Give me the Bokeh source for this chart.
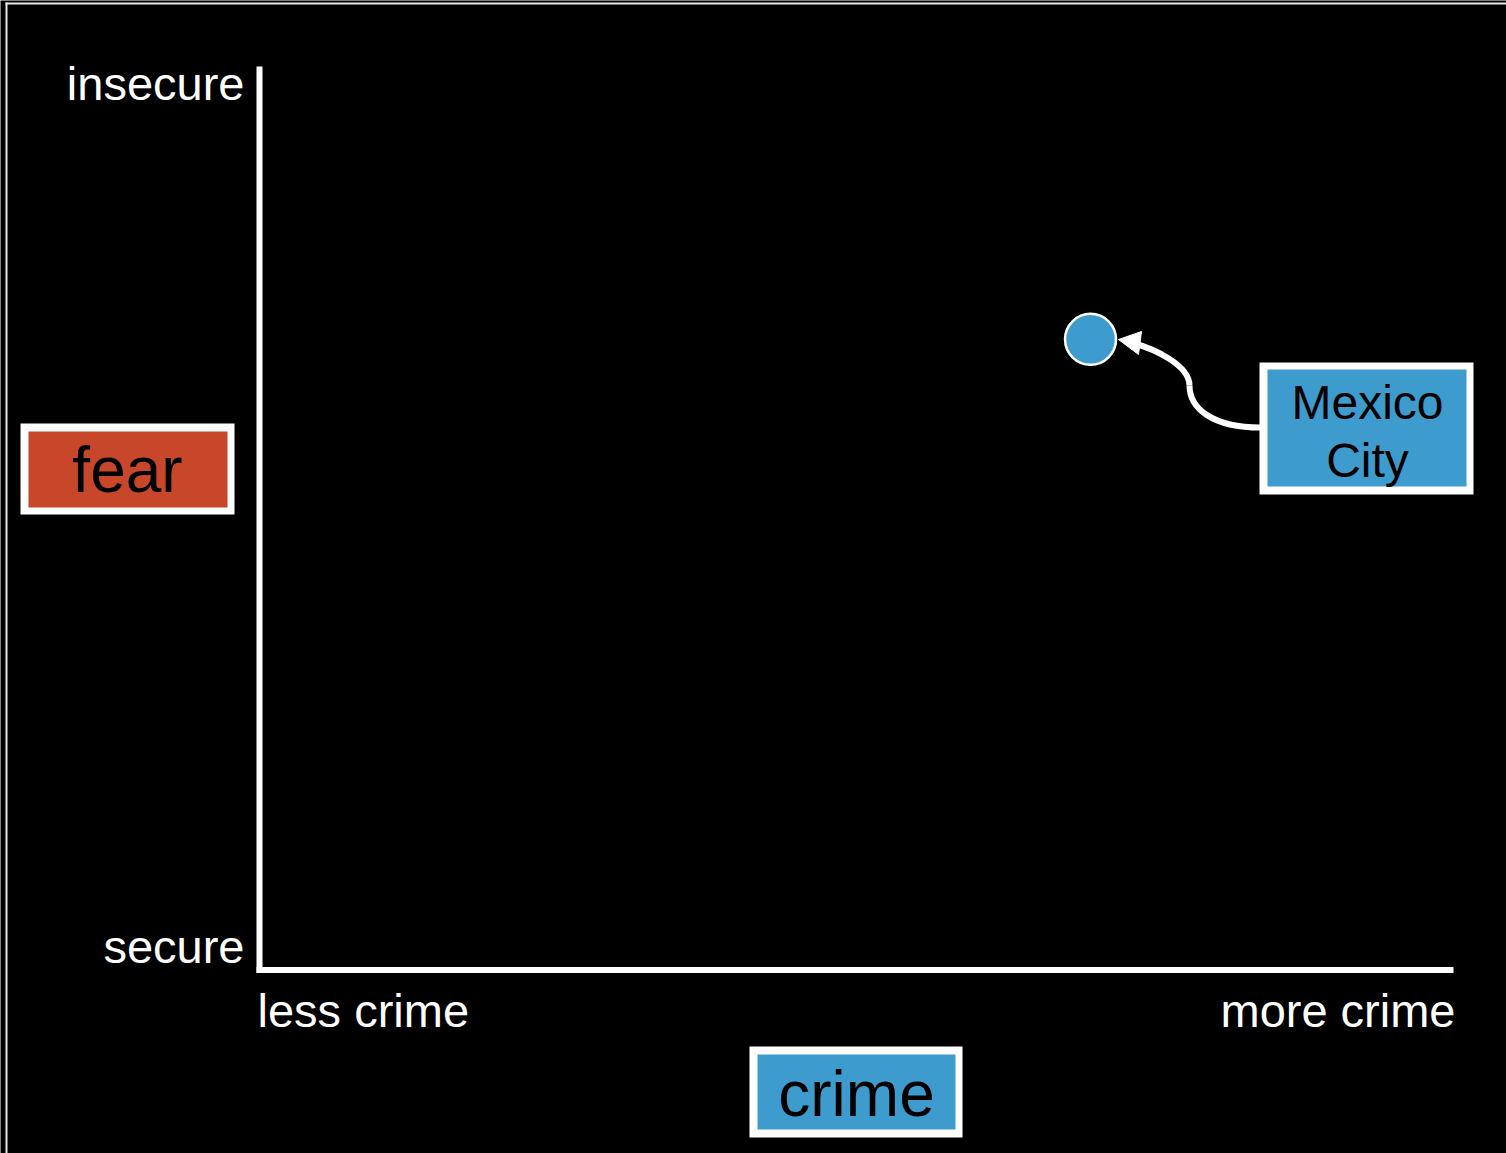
from bokeh.plotting import figure
from bokeh.models import Range1d
from bokeh.core.properties import value
from bokeh.embed import file_html
from bokeh.resources import INLINE

# ---- data ----
crime_labels = ["less crime", "more crime"]
fear_labels = ["secure", "insecure"]
axis_names = ["crime", "fear"]
city_names = ["Mexico City"]
city_crime = [0.696]
city_fear = [0.698]

# ---- layout (page pixels -> data units) ----
X0, X1 = 259.0, 1453.0   # crime 0 .. 1
Y0, Y1 = 969.5, 66.0     # fear 0 .. 1
def dx(px):
    return (px - X0) / (X1 - X0)
def dy(py):
    return (Y0 - py) / (Y0 - Y1)

W, H = 1506, 1153
FONT = value("Liberation Sans")
RED = "#C8472B"
BLUE = "#3E9BCD"
# the svg text baseline lands lower than asked: lift texts by this much
LIFT_S, LIFT_L = 17, 21

p = figure(width=W, height=H, x_range=Range1d(dx(0), dx(W)),
           y_range=Range1d(dy(H), dy(0)), min_border=0,
           toolbar_location=None, output_backend="svg",
           x_axis_type=None, y_axis_type=None,
           background_fill_color="black", border_fill_color="black",
           outline_line_color=None)
p.grid.visible = False

# slide frame lines (top and left)
p.line([dx(5), dx(W + 5)], [dy(3), dy(3)], line_color="#e6e6e6", line_width=2)
p.line([dx(6), dx(6)], [dy(2), dy(H + 5)], line_color="#e6e6e6", line_width=2)

# axes lines
p.line([0, 0], [dy(972.5), 1], line_color="white", line_width=6, line_cap="butt")
p.line([dx(256), 1], [0, 0], line_color="white", line_width=6, line_cap="butt")

# axis end labels
p.text([dx(244), dx(244)], [dy(963 - LIFT_S), dy(100 - LIFT_S)], text=fear_labels,
       text_align="right", text_baseline="alphabetic", text_color="white",
       text_font=FONT, text_font_size=value("47px"))
p.text([dx(257)], [dy(1027 - LIFT_S)], text=[crime_labels[0]], text_align="left",
       text_baseline="alphabetic", text_color="white",
       text_font=FONT, text_font_size=value("47px"))
p.text([dx(1455)], [dy(1027 - LIFT_S)], text=[crime_labels[1]], text_align="right",
       text_baseline="alphabetic", text_color="white",
       text_font=FONT, text_font_size=value("47px"))

# axis name boxes
def box(l, r, t, b, il, ir, it, ib, color):
    p.quad(left=[dx(l)], right=[dx(r)], top=[dy(t)], bottom=[dy(b)],
           fill_color="white", line_color=None)
    p.quad(left=[dx(il)], right=[dx(ir)], top=[dy(it)], bottom=[dy(ib)],
           fill_color=color, line_color=None)

box(20, 234, 423, 514, 28, 227, 431, 507, RED)
p.text([dx(127)], [dy(490 - LIFT_L)], text=[axis_names[1]], text_align="center",
       text_baseline="alphabetic", text_color="black",
       text_font=FONT, text_font_size=value("64px"))

box(749, 962, 1046, 1137, 757, 955, 1054, 1129, BLUE)
p.text([dx(856)], [dy(1114 - LIFT_L)], text=[axis_names[0]], text_align="center",
       text_baseline="alphabetic", text_color="black",
       text_font=FONT, text_font_size=value("64px"))

# city label box
box(1259, 1473, 362, 494, 1267, 1466, 369, 486, BLUE)
words = city_names[0].split(" ")
p.text([dx(1367), dx(1367)], [dy(419 - LIFT_S), dy(477 - LIFT_S)], text=words,
       text_align="center", text_baseline="alphabetic", text_color="black",
       text_font=FONT, text_font_size=value("48px"))

# curved arrow
p.bezier(x0=[dx(1260), dx(1189)], y0=[dy(427), dy(385)],
         x1=[dx(1189), dx(1134)], y1=[dy(385), dy(343)],
         cx0=[dx(1212), dx(1189)], cy0=[dy(427), dy(364)],
         cx1=[dx(1189), dx(1152)], cy1=[dy(408), dy(348)],
         line_color="white", line_width=6)
p.patch([dx(1118), dx(1141), dx(1138)], [dy(339), dy(331), dy(354)],
        fill_color="white", line_color="white", line_width=1)

# data point
p.scatter(city_crime, city_fear, size=51, fill_color=BLUE,
          line_color="white", line_width=2.5)

open("out.html", "w").write(file_html(p, INLINE))
